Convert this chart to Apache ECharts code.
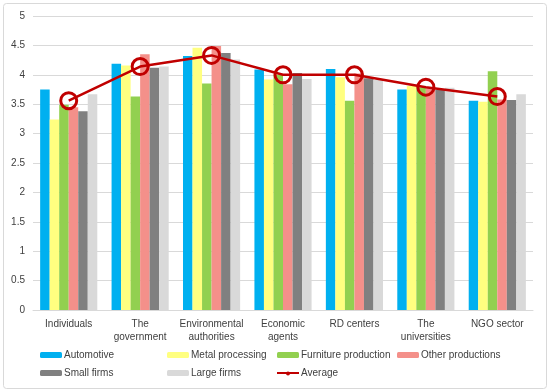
<!DOCTYPE html>
<html>
<head>
<meta charset="utf-8">
<script src="https://cdn.jsdelivr.net/npm/echarts@6/dist/echarts.min.js"></script>
<style>
html,body{margin:0;padding:0;background:#fff;}
#chart{width:550px;height:392px;}
</style>
</head>
<body>
<div id="chart"></div>
<script>
const categories = ["Individuals", "The\ngovernment", "Environmental\nauthorities", "Economic\nagents", "RD centers", "The\nuniversities", "NGO sector"];
const automotive = [3.75, 4.19, 4.32, 4.09, 4.10, 3.75, 3.56];
const metalProcessing = [3.24, 4.16, 4.46, 3.92, 3.96, 3.81, 3.54];
const furnitureProduction = [3.49, 3.63, 3.85, 4.00, 3.56, 3.79, 4.06];
const otherProductions = [3.45, 4.35, 4.49, 3.84, 4.02, 3.77, 3.58];
const smallFirms = [3.38, 4.12, 4.37, 4.03, 3.94, 3.74, 3.57];
const largeFirms = [3.67, 4.14, 4.26, 3.93, 3.91, 3.78, 3.67];
const average = [3.56, 4.14, 4.33, 4.00, 4.00, 3.79, 3.63];
const yTicks = [0, 0.5, 1, 1.5, 2, 2.5, 3, 3.5, 4, 4.5, 5];

const barSeries = [
  ["Automotive", automotive, "#00B0F0"],
  ["Metal processing", metalProcessing, "#FFFF80"],
  ["Furniture production", furnitureProduction, "#92D050"],
  ["Other productions", otherProductions, "#F4908A"],
  ["Small firms", smallFirms, "#808080"],
  ["Large firms", largeFirms, "#D9D9D9"]
];

const font = "Liberation Sans, Arial, sans-serif";
const fs = 10;
const series = barSeries.map(([name, data, color]) => ({
  name, type: "bar", data,
  itemStyle: { color },
  barGap: "0%", barCategoryGap: "20%"
}));
series.push({
  name: "Average", type: "line", data: average,
  symbol: "circle", symbolSize: 16,
  itemStyle: { color: "rgba(0,0,0,0)", borderColor: "#C00000", borderWidth: 3 },
  lineStyle: { color: "#C00000", width: 2.5 },
  z: 10
});

function leg(name, left, top) {
  return {
    data: [name],
    left, top, padding: 0,
    itemWidth: 22, itemHeight: 6, itemGap: 0,
    textStyle: { fontFamily: font, fontSize: fs, color: "#404040", padding: [0, 0, 0, -3] }
  };
}

const chart = echarts.init(document.getElementById("chart"));
chart.setOption({
  animation: false,
  backgroundColor: "#fff",
  graphic: [{
    type: "rect", shape: { x: 3.5, y: 3.5, width: 543, height: 385, r: 3 },
    style: { fill: "none", stroke: "#D9D9D9", lineWidth: 1 }, silent: true
  }, {
    type: "circle", shape: { cx: 288, cy: 373.5, r: 2 },
    style: { fill: "#C00000" }, z: 100
  }],
  legend: [
    leg("Automotive", 40, 350),
    leg("Metal processing", 167, 350),
    leg("Furniture production", 277, 350),
    leg("Other productions", 397, 350),
    leg("Small firms", 40, 368),
    leg("Large firms", 167, 368),
    { data: [{ name: "Average", icon: "path://M0,3.5 L22,3.5 L22,5.5 L0,5.5 Z" }], left: 277, top: 368, padding: 0,
      itemWidth: 22, itemHeight: 9,
      itemStyle: { color: "#C00000", borderWidth: 0 },
      textStyle: { fontFamily: font, fontSize: fs, color: "#404040", padding: [0, 0, 0, -3] } }
  ],
  grid: { left: 33, right: 17, top: 16, bottom: 82 },
  xAxis: {
    type: "category", data: categories,
    axisLine: { lineStyle: { color: "#D9D9D9" } },
    axisTick: { show: false },
    axisLabel: { fontFamily: font, fontSize: fs, color: "#404040", margin: 8, lineHeight: 13, interval: 0 }
  },
  yAxis: {
    type: "value", min: 0, max: 5, interval: 0.5,
    axisLine: { show: false }, axisTick: { show: false },
    splitLine: { lineStyle: { color: "#D9D9D9" } },
    axisLabel: { fontFamily: font, fontSize: fs, color: "#404040", margin: 8,
      formatter: v => yTicks.includes(v) ? String(v) : "" }
  },
  series
});
</script>
</body>
</html>
